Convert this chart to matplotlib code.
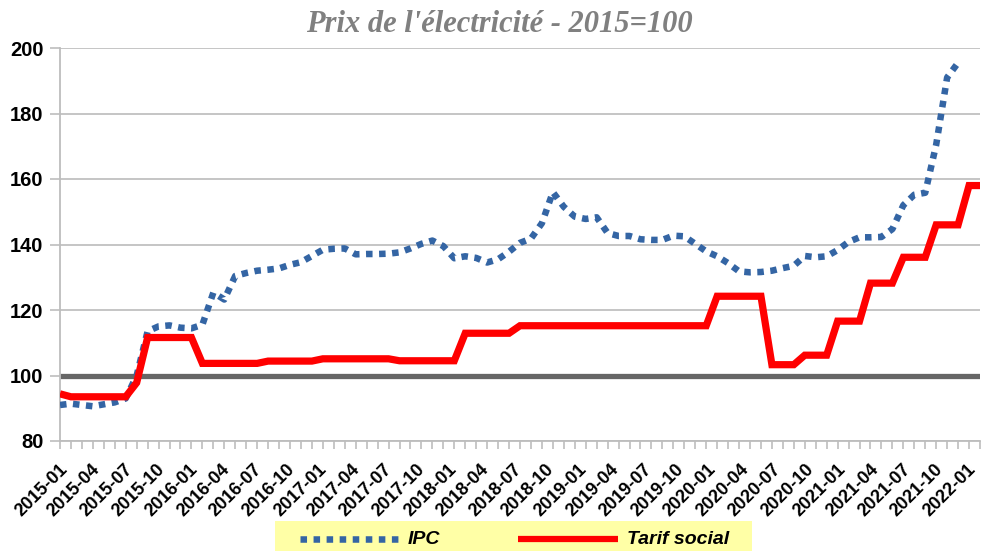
import matplotlib
matplotlib.use('Agg')
import matplotlib.pyplot as plt
import matplotlib.transforms as mtransforms
import numpy as np
import pandas as pd
from matplotlib.lines import Line2D
from matplotlib.patches import Rectangle

# ---------------- data ----------------
months = pd.date_range('2015-01-01', '2022-01-01', freq='MS').strftime('%Y-%m').tolist()

ipc = [91.0, 91.4, 91.0, 90.6, 91.2, 91.8, 93.0, 100.0, 113.5, 115.0,
       115.3, 114.6, 114.4, 115.5, 125.3, 123.2, 130.4, 131.3, 132.0, 132.3,
       132.7, 133.8, 134.6, 136.5, 138.4, 138.7, 138.8, 137.0, 137.1, 137.1,
       137.2, 137.6, 138.8, 140.2, 141.2, 139.5, 135.8, 136.4, 135.9, 134.5,
       135.5, 137.8, 140.5, 141.8, 146.5, 156.0, 151.5, 148.5, 147.8, 148.3,
       143.5, 142.6, 142.6, 141.6, 141.4, 141.4, 142.7, 142.5, 140.2, 137.9,
       136.4, 134.3, 131.8, 131.5, 131.6, 132.0, 132.8, 133.5, 136.5, 136.1,
       136.4, 138.3, 140.8, 142.2, 142.2, 142.3, 144.7, 152.0, 155.2, 155.8,
       170.5, 191.0, 195.5, np.nan, np.nan]

tarif_social = [94.4, 93.5, 93.5, 93.5, 93.5, 93.5, 93.5, 97.8, 111.6, 111.6,
                111.6, 111.6, 111.6, 103.7, 103.7, 103.7, 103.7, 103.7, 103.7, 104.4,
                104.4, 104.4, 104.4, 104.4, 105.1, 105.1, 105.1, 105.1, 105.1, 105.1,
                105.1, 104.5, 104.5, 104.5, 104.5, 104.5, 104.5, 112.9, 112.9, 112.9,
                112.9, 112.9, 115.2, 115.2, 115.2, 115.2, 115.2, 115.2, 115.2, 115.2,
                115.2, 115.2, 115.2, 115.2, 115.2, 115.2, 115.2, 115.2, 115.2, 115.2,
                124.2, 124.2, 124.2, 124.2, 124.2, 103.3, 103.3, 103.3, 106.2, 106.2,
                106.2, 116.6, 116.6, 116.6, 128.2, 128.2, 128.2, 136.1, 136.1, 136.1,
                146.0, 146.0, 146.0, 158.0, 158.0]

base_2015 = 100
tick_labels = months[::3]
series_names = ['IPC', 'Tarif social']
title = "Prix de l'électricité - 2015=100"

# ---------------- figure ----------------
W, H = 981, 551
fig = plt.figure(figsize=(W / 100, H / 100), dpi=100)
ax = fig.add_axes([60 / W, 110 / H, 920 / W, 393 / H])

x = np.arange(len(months))
ipc_color = '#3465A4'
red = '#FF0000'

ax.plot(x, [base_2015] * len(x), color='#666666', lw=3.8,
        solid_capstyle='butt', zorder=2)
ax.plot(x, ipc, color=ipc_color, lw=4.7, linestyle=(0, (1, 1.0)),
        dash_capstyle='butt', zorder=3)
ax.plot(x, tarif_social, color=red, lw=5.2, solid_joinstyle='miter',
        solid_capstyle='butt', zorder=4)

ax.set_xlim(0, len(x) - 1)
ax.set_ylim(80, 200)
ax.set_yticks(range(80, 201, 20))
ax.yaxis.grid(True, color='#C0C0C0', lw=1.3)
ax.set_axisbelow(True)

for s in ['top', 'right']:
    ax.spines[s].set_visible(False)
for s in ['left', 'bottom']:
    ax.spines[s].set_color('#BDBDBD')
    ax.spines[s].set_linewidth(1.3)

ax.set_xticks(x[::3])
ax.set_xticks(x, minor=True)
ax.set_xticklabels(tick_labels, rotation=45, ha='right', va='top',
                   rotation_mode='anchor', fontsize=13, fontweight='bold',
                   family='Liberation Sans')
for lab in ax.get_yticklabels():
    lab.set_fontsize(14.5)
    lab.set_fontweight('bold')
    lab.set_family('Liberation Sans')
ax.tick_params(axis='x', which='both', length=6, width=1.2, color='#BDBDBD', pad=8)
ax.tick_params(axis='y', length=7, width=1.2, color='#BDBDBD', pad=5)

# Excel-like drift of rotated labels (slightly left toward the right end)
labs = ax.get_xticklabels()
nl = len(labs)
for k, lab in enumerate(labs):
    dx = -(1 + 12 * k / (nl - 1)) / 100.0
    lab.set_transform(lab.get_transform() +
                      mtransforms.ScaledTranslation(dx, 0, fig.dpi_scale_trans))

fig.text(499 / W, 1 - 25 / H, title, ha='center', va='center',
         fontsize=22, fontweight='bold', fontstyle='italic',
         family='Liberation Serif', color='#808080')

# ---------------- legend ----------------
fig.patches.append(Rectangle((275 / W, 0), (752 - 275) / W, 30 / H,
                             transform=fig.transFigure, facecolor='#FFFFA6',
                             edgecolor='none', zorder=0))
ly = (H - 539) / H
fig.lines.append(Line2D([300 / W, 402 / W], [ly, ly], transform=fig.transFigure,
                        color=ipc_color, lw=4.7, linestyle=(0, (1, 1.0)),
                        dash_capstyle='butt'))
fig.lines.append(Line2D([518 / W, 618 / W], [ly, ly], transform=fig.transFigure,
                        color=red, lw=4.5, solid_capstyle='butt'))
fig.text(408 / W, ly, series_names[0], ha='left', va='center', fontsize=14,
         fontweight='bold', fontstyle='italic', family='Liberation Sans')
fig.text(627 / W, ly, series_names[1], ha='left', va='center', fontsize=14,
         fontweight='bold', fontstyle='italic', family='Liberation Sans')

fig.savefig('out.png', dpi=100)
